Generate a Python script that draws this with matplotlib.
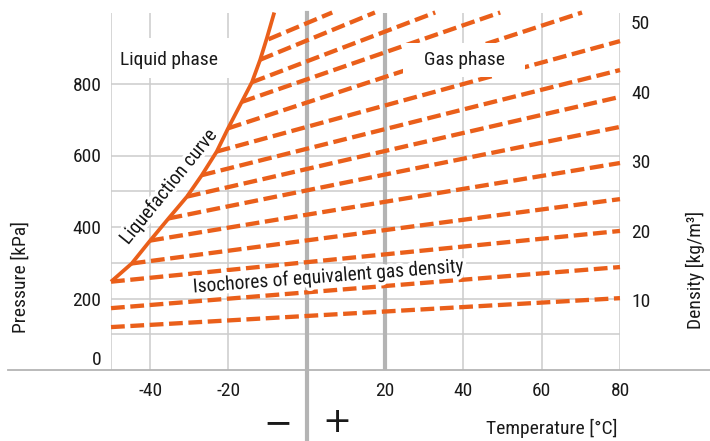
import matplotlib
matplotlib.use("Agg")
import matplotlib.pyplot as plt
import matplotlib.font_manager as fm
import matplotlib.patheffects as pe
from matplotlib.patches import Rectangle
from matplotlib.transforms import ScaledTranslation, blended_transform_factory

# condensed font if we have one
names = {f.name for f in fm.fontManager.ttflist}
FONT = "DejaVu Sans"
for cand in ["Liberation Sans Narrow", "Roboto Condensed", "Open Sans Condensed"]:
    if cand in names:
        FONT = cand
        break
plt.rcParams["font.family"] = [FONT, "DejaVu Sans"]
if FONT == "DejaVu Sans":
    plt.rcParams["font.stretch"] = "condensed"

ORANGE = "#EA5F1A"
GRID = "#cccccc"
THICK = "#b4b4b4"
TXT = "#1a1a1a"

# liquefaction curve (temperature °C, pressure kPa)
CURVE_T = [-50, -44.7, -40, -35.3, -30.6, -26.8, -23.0, -20.1, -16.6, -14.0, -11.9, -10.2, -8.3]
CURVE_P = [247, 298, 362, 424, 485, 545, 611, 676, 750, 805, 868, 928, 1000]

# isochores: start on curve / left edge, end on right edge / top
ISO_T_START = [-50, -50, -50, -44.7, -40.0, -35.3, -30.6, -26.8, -23.0, -20.1, -16.6, -14.0, -11.9, -9.8]
ISO_P_START = [120, 173, 247, 298, 362, 424, 485, 545, 611, 676, 750, 805, 868, 925]
ISO_T_END = [80, 80, 80, 80, 80, 80, 80, 80, 80, 70.3, 49.4, 32.8, 17.4, 6.5]
ISO_P_END = [201, 288, 389, 478, 579, 680, 764, 839, 920, 1000, 1000, 1000, 1000, 1000]

T_TICKS = [-40, -20, 20, 40, 60, 80]
P_TICKS = [0, 200, 400, 600, 800]
RHO_TICKS = [10, 20, 30, 40, 50]
GRID_T = [-50, -40, -20, 40, 60, 80]
THICK_T = [0, 20]
GRID_P = [100, 200, 300, 400, 500, 600, 800]

fig = plt.figure(figsize=(7.1, 4.41), dpi=100)
ax = fig.add_axes([111 / 710, 71 / 441, 509 / 710, 357.5 / 441])
ax.set_xlim(-50, 80)
ax.set_ylim(0, 1000)
for s in ax.spines.values():
    s.set_visible(False)

# grid
for t in GRID_T:
    ax.axvline(t, color=GRID, lw=1.1, zorder=1)
for p in GRID_P:
    ax.axhline(p, color=GRID, lw=1.1, zorder=1)
ax.axvline(THICK_T[0], ymin=-0.2, ymax=1, color=THICK, lw=3, zorder=1, clip_on=False)
ax.axvline(THICK_T[1], color=THICK, lw=3, zorder=1)
ax.axhline(0, xmin=-0.202, xmax=1.18, color=THICK, lw=1.3, zorder=2, clip_on=False)

# isochores
for t0, p0, t1, p1 in zip(ISO_T_START, ISO_P_START, ISO_T_END, ISO_P_END):
    ax.plot([t0, t1], [p0, p1], color=ORANGE, lw=3.1, dashes=(3.2, 1.3),
            dash_capstyle="butt", zorder=3, clip_on=False)

# liquefaction curve
ax.plot(CURVE_T, CURVE_P, color=ORANGE, lw=2.7, solid_capstyle="butt",
        solid_joinstyle="round", zorder=4, clip_on=False)

# phase labels with white boxes
ax.add_patch(Rectangle((-49.4, 817), 30.3, 112, fc="white", ec="none", zorder=5))
ax.text(-35.1, 868, "Liquid phase", fontsize=14, color=TXT, ha="center", va="center", zorder=6)
ax.add_patch(Rectangle((24.6, 820), 31.1, 95, fc="white", ec="none", zorder=5))
ax.text(40.2, 868, "Gas phase", fontsize=14, color=TXT, ha="center", va="center", zorder=6)

halo = [pe.withStroke(linewidth=5, foreground="white")]
ax.text(-35.2, 512, "Liquefaction curve", fontsize=14, color=TXT, rotation=51,
        rotation_mode="anchor", ha="center", va="center", zorder=6, path_effects=halo)
ax.text(5.7, 260, "Isochores of equivalent gas density", fontsize=14, color=TXT,
        rotation=4.4, rotation_mode="anchor", ha="center", va="center", zorder=6,
        path_effects=halo)

# ticks
ax.set_xticks(T_TICKS)
ax.set_xticklabels([str(t) for t in T_TICKS])
ax.set_yticks(P_TICKS)
ax.tick_params(length=0, labelsize=14, labelcolor=TXT)
ax.tick_params(axis="x", pad=9)
ax.tick_params(axis="y", pad=7)
lbl0 = ax.get_yticklabels()[0]
lbl0.set_transform(lbl0.get_transform() + ScaledTranslation(0, 12 / 100, fig.dpi_scale_trans))

ax2 = ax.twinx()
ax2.set_ylim(0, 51.4)
ax2.set_yticks(RHO_TICKS)
for s in ax2.spines.values():
    s.set_visible(False)
ax2.tick_params(length=0, labelsize=14, labelcolor=TXT, pad=8)

ax.set_ylabel("Pressure [kPa]", fontsize=14, color=TXT)
ax.yaxis.set_label_coords(-0.159, 0.26)
ax2.set_ylabel("Density [kg/m³]", fontsize=14, color=TXT)
ax2.yaxis.set_label_coords(1.13, 0.28)
ax.set_xlabel("Temperature [°C]", fontsize=14, color=TXT, ha="right", va="center")
ax.xaxis.set_label_coords(0.995, -0.163)

# sign markers below the zero line
tr = blended_transform_factory(ax.transData, ax.transAxes)
ax.text(-7.6, -0.147, "$-$", transform=tr, fontsize=25, color=TXT,
        ha="center", va="center")
ax.text(7.5, -0.147, "$+$", transform=tr, fontsize=25, color=TXT,
        ha="center", va="center")

fig.savefig("out.png", dpi=100)
plt.close(fig)
